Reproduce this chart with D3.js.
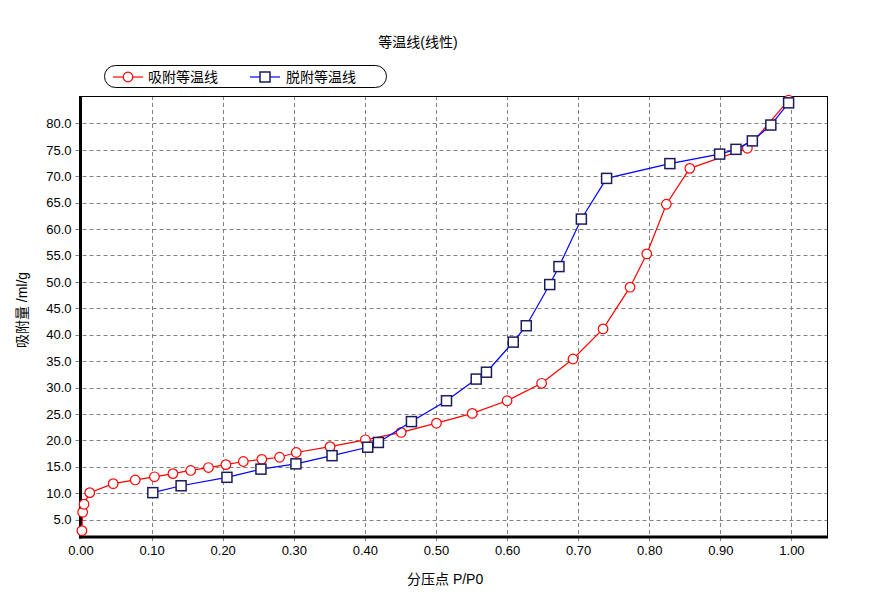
<!DOCTYPE html>
<html><head><meta charset="utf-8">
<script src="https://cdn.jsdelivr.net/npm/d3@7"></script>
<style>body{margin:0;background:#fff}svg{display:block}text{font-family:"Liberation Sans","Noto Sans CJK SC",sans-serif;}</style>
</head><body><svg id="c" width="874" height="600"></svg>
<script>
const title = "等温线(线性)";
const xLabel = "分压点 P/P0";
const yLabel = "吸附量 /ml/g";
const seriesNames = ["吸附等温线", "脱附等温线"];
const xTicks = [0,0.1,0.2,0.3,0.4,0.5,0.6,0.7,0.8,0.9,1.0];
const yTicks = [5,10,15,20,25,30,35,40,45,50,55,60,65,70,75,80];
const adsX = [0.002,0.003,0.005,0.013,0.046,0.077,0.104,0.130,0.155,0.180,0.2045,0.229,0.255,0.280,0.3035,0.351,0.4007,0.451,0.5007,0.551,0.600,0.6486,0.6927,0.735,0.773,0.7965,0.824,0.857,0.938,0.996];
const adsY = [2.9,6.4,7.9,10.1,11.8,12.5,13.1,13.7,14.3,14.85,15.4,16.0,16.4,16.8,17.7,18.8,20.1,21.5,23.25,25.1,27.5,30.8,35.4,41.1,49.0,55.3,64.7,71.5,75.3,84.4];
const desX = [0.1017,0.1415,0.206,0.2538,0.303,0.3538,0.404,0.419,0.4655,0.5148,0.5566,0.571,0.6087,0.627,0.66,0.673,0.7045,0.740,0.829,0.899,0.922,0.945,0.971,0.996];
const desY = [10.1,11.4,13.0,14.55,15.55,17.1,18.7,19.6,23.55,27.5,31.6,32.9,38.6,41.7,49.5,52.9,61.9,69.6,72.4,74.2,75.1,76.7,79.7,83.9];

const svg = d3.select("#c");
const L=80.5,R=827,T=96,B=537;
const x = d3.scaleLinear().domain([0,1.05]).range([L,R]);
const y = d3.scaleLinear().domain([1.7,85.2]).range([B,T]);

// grid
const g = svg.append("g");
g.selectAll(".vx").data(xTicks.slice(1)).join("line")
 .attr("x1",d=>Math.round(x(d))+0.5).attr("x2",d=>Math.round(x(d))+0.5)
 .attr("y1",T).attr("y2",B+6)
 .attr("stroke","#808080").attr("stroke-dasharray","4,3");
g.selectAll(".hy").data(yTicks).join("line")
 .attr("y1",d=>Math.round(y(d))+0.5).attr("y2",d=>Math.round(y(d))+0.5)
 .attr("x1",L-5).attr("x2",R)
 .attr("stroke","#808080").attr("stroke-dasharray","4,3");

// frame
svg.append("line").attr("x1",L).attr("x2",R).attr("y1",T+0.5).attr("y2",T+0.5).attr("stroke","#000");
svg.append("line").attr("x1",R+0.5).attr("x2",R+0.5).attr("y1",T).attr("y2",B).attr("stroke","#000");

// axes labels via d3 axes
const xAxis = d3.axisBottom(x).tickValues(xTicks).tickFormat(d3.format(".2f")).tickSize(0).tickPadding(9);
const xa = svg.append("g").attr("transform",`translate(0,${B})`).call(xAxis);
xa.select(".domain").remove();
xa.selectAll("text").attr("font-size",13).attr("fill","#000").attr("font-family","Liberation Sans, sans-serif");
const yAxis = d3.axisLeft(y).tickValues(yTicks).tickFormat(d3.format(".1f")).tickSize(0).tickPadding(9);
const ya = svg.append("g").attr("transform",`translate(${L},0)`).call(yAxis);
ya.select(".domain").remove();
ya.selectAll("text").attr("font-size",13).attr("fill","#000").attr("font-family","Liberation Sans, sans-serif");

// thick axes
svg.append("line").attr("x1",L).attr("x2",L).attr("y1",T).attr("y2",B+1.5).attr("stroke","#000").attr("stroke-width",3);
svg.append("line").attr("x1",L-1.5).attr("x2",R+1).attr("y1",B).attr("y2",B).attr("stroke","#000").attr("stroke-width",3);

// series
const ads = adsX.map((v,i)=>[v,adsY[i]]);
const des = desX.map((v,i)=>[v,desY[i]]);
const line = d3.line().x(d=>x(d[0])).y(d=>y(d[1]));
const pg = svg.append("g");
pg.append("path").datum(ads).attr("d",line).attr("fill","none").attr("stroke","#ff0000").attr("stroke-width",1.2);
pg.selectAll(".ac").data(ads).join("circle").attr("cx",d=>x(d[0])).attr("cy",d=>y(d[1])).attr("r",4.8)
 .attr("fill","#fff").attr("stroke","#ff0000").attr("stroke-width",1.2);
pg.append("path").datum(des).attr("d",line).attr("fill","none").attr("stroke","#0000ff").attr("stroke-width",1.2);
pg.selectAll(".ds").data(des).join("rect").attr("x",d=>x(d[0])-5).attr("y",d=>y(d[1])-5).attr("width",10).attr("height",10)
 .attr("fill","#fff").attr("stroke","#1c1c5c").attr("stroke-width",1.5);

// titles
svg.append("text").attr("x",418).attr("y",47).attr("text-anchor","middle").attr("font-size",14).attr("font-family","Noto Sans CJK SC").text(title);
svg.append("text").attr("x",407).attr("y",584).attr("font-size",14).attr("font-family","Noto Sans CJK SC").text(xLabel);
svg.append("text").attr("transform","translate(27,310) rotate(-90)").attr("text-anchor","middle").attr("font-size",14).attr("font-family","Noto Sans CJK SC").text(yLabel);

// legend
const lg = svg.append("g");
lg.append("rect").attr("x",104.5).attr("y",65.5).attr("width",282).attr("height",22).attr("rx",11).attr("ry",11)
 .attr("fill","#fff").attr("stroke","#000").attr("stroke-width",1);
lg.append("line").attr("x1",113).attr("x2",143).attr("y1",77).attr("y2",77).attr("stroke","#ff0000").attr("stroke-width",1.2);
lg.append("circle").attr("cx",128).attr("cy",77).attr("r",4.8).attr("fill","#fff").attr("stroke","#ff0000").attr("stroke-width",1.2);
lg.append("text").attr("x",148).attr("y",82).attr("font-size",14).attr("font-family","Noto Sans CJK SC").text(seriesNames[0]);
lg.append("line").attr("x1",250).attr("x2",280).attr("y1",77).attr("y2",77).attr("stroke","#0000ff").attr("stroke-width",1.2);
lg.append("rect").attr("x",260).attr("y",72).attr("width",10).attr("height",10).attr("fill","#fff").attr("stroke","#1c1c5c").attr("stroke-width",1.5);
lg.append("text").attr("x",286).attr("y",82).attr("font-size",14).attr("font-family","Noto Sans CJK SC").text(seriesNames[1]);
</script></body></html>
